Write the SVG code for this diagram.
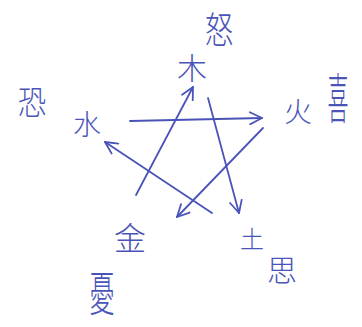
<svg xmlns="http://www.w3.org/2000/svg" width="362" height="327" viewBox="0 0 362 327">
<style>
.t{font-family:"Noto Sans CJK SC","Noto Sans CJK JP",sans-serif;fill:#4a54b8;font-weight:300;text-anchor:middle;dominant-baseline:central}
.c{fill:none;stroke:#4a54b8;stroke-width:1.8;stroke-linecap:round;stroke-linejoin:round}
</style>
<defs>
<marker id="ah" viewBox="0 0 14 14" refX="13" refY="7" markerWidth="14" markerHeight="14" markerUnits="userSpaceOnUse" orient="auto">
<path d="M1,1 L13,7 L1,13" fill="none" stroke="#4a54b8" stroke-width="1.8" stroke-linecap="round" stroke-linejoin="round"/>
</marker>
</defs>
<rect width="362" height="327" fill="#ffffff"/>
<g id="connectors">
<line class="c" x1="130" y1="121" x2="262" y2="118" marker-end="url(#ah)"/>
<line class="c" x1="263" y1="128" x2="177" y2="217" marker-end="url(#ah)"/>
<line class="c" x1="136" y1="195" x2="193" y2="87" marker-end="url(#ah)"/>
<line class="c" x1="208" y1="98" x2="239" y2="213" marker-end="url(#ah)"/>
<line class="c" x1="212" y1="213" x2="105" y2="142" marker-end="url(#ah)"/>
</g>
<g id="wood"><text class="t" x="192" y="66" font-size="30">木</text></g>
<g id="anger"><text class="t" x="0" y="0" font-size="30" transform="translate(219,28) scale(0.95,1.25)">怒</text></g>
<g id="fire"><text class="t" x="298" y="110" font-size="28">火</text></g>
<g id="joy"><text class="t" x="0" y="0" font-size="30" transform="translate(338,95) scale(0.7,1.8)">喜</text></g>
<g id="water"><text class="t" x="87" y="123" font-size="28">水</text></g>
<g id="fear"><text class="t" x="0" y="0" font-size="30" transform="translate(32,100) scale(0.95,1.15)">恐</text></g>
<g id="metal"><text class="t" x="130" y="236" font-size="32">金</text></g>
<g id="worry"><text class="t" x="0" y="0" font-size="30" transform="translate(102,290) scale(0.85,1.6)">憂</text></g>
<g id="earth"><text class="t" x="252" y="237" font-size="24">土</text></g>
<g id="thought"><text class="t" x="282" y="268" font-size="30">思</text></g>
</svg>
